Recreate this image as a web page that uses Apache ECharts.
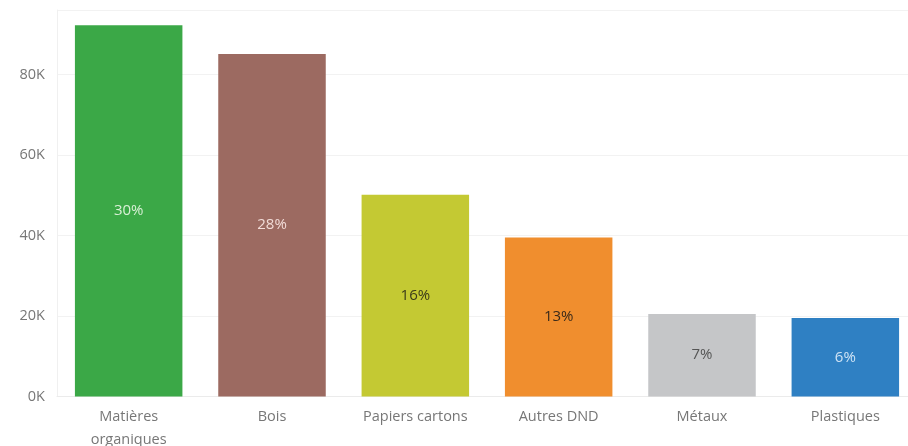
<!DOCTYPE html>
<html>
<head>
<meta charset="utf-8">
<script src="https://cdn.jsdelivr.net/npm/echarts@6/dist/echarts.min.js"></script>
<style>html,body{margin:0;padding:0;background:#fff;}#c{width:908px;height:446px;}</style>
</head>
<body>
<div id="c"></div>
<script>
const categories = ["Matières\norganiques", "Bois", "Papiers cartons", "Autres DND", "Métaux", "Plastiques"];
const values = [92200, 85100, 50100, 39500, 20500, 19500];
const barColors = ["#3ba847", "#9c6a61", "#c4c933", "#f08e2e", "#c5c6c8", "#2f80c3"];
const labelColors = ["#d9f0d6", "#f2dcd8", "#3a3a1a", "#3a2a1a", "#555555", "#cfe3f5"];
const yTicks = [0, 20000, 40000, 60000, 80000];

const total = values.reduce((a, b) => a + b, 0);
const chart = echarts.init(document.getElementById('c'), null, {renderer: 'canvas'});
chart.setOption({
  animation: false,
  backgroundColor: '#ffffff',
  textStyle: {fontFamily: 'Open Sans'},
  grid: {left: 57, top: 10, width: 860, bottom: 49.5, containLabel: false, outerBoundsMode: 'none'},
  xAxis: {
    type: 'category',
    data: categories,
    axisLine: {show: true, lineStyle: {color: '#ebebeb'}},
    axisTick: {show: false},
    axisLabel: {color: '#777777', fontSize: 14.5, margin: 9, lineHeight: 23, fontFamily: 'Open Sans'}
  },
  yAxis: {
    type: 'value',
    min: 0, max: 96000, interval: 20000,
    axisLine: {show: true, lineStyle: {color: '#f0f0f0'}},
    axisTick: {show: false},
    splitLine: {show: true, lineStyle: {color: '#f2f2f2'}},
    axisLabel: {
      color: '#777777', fontSize: 14.5, margin: 12, fontFamily: 'Open Sans',
      formatter: function (v) { return yTicks.indexOf(v) >= 0 ? (v / 1000) + 'K' : ''; }
    }
  },
  series: [{
    type: 'bar',
    barWidth: '75%',
    data: values.map((v, i) => ({
      value: v,
      itemStyle: {color: barColors[i]},
      label: {color: labelColors[i]}
    })),
    label: {
      show: true, position: 'inside', fontSize: 15, fontFamily: 'Open Sans',
      formatter: function (p) { return Math.round(p.value / total * 100) + '%'; }
    }
  }]
});
</script>
</body>
</html>
